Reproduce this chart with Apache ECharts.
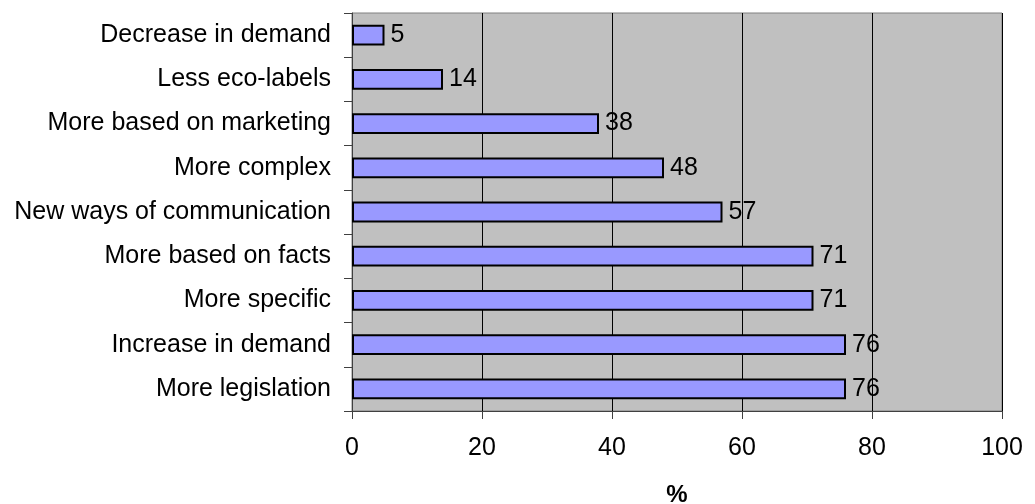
<!DOCTYPE html>
<html>
<head>
<meta charset="utf-8">
<script src="https://cdn.jsdelivr.net/npm/echarts@6/dist/echarts.min.js"></script>
<style>html,body{margin:0;padding:0;background:#fff}#c{width:1035px;height:504px}</style>
</head>
<body>
<div id="c"></div>
<script>
const categories = ['More legislation', 'Increase in demand', 'More specific', 'More based on facts', 'New ways of communication', 'More complex', 'More based on marketing', 'Less eco-labels', 'Decrease in demand'];
const values = [76, 76, 71, 71, 57, 48, 38, 14, 5];
const xTicks = [0, 20, 40, 60, 80, 100];
const xAxisName = '%';

const chart = echarts.init(document.getElementById('c'), null, {renderer: 'canvas'});
const font = 'Liberation Sans, Arial, sans-serif';
chart.setOption({
  animation: false,
  backgroundColor: '#ffffff',
  grid: {left: 352, right: 33, top: 13, bottom: 93, containLabel: false, outerBoundsMode: 'none', show: true, backgroundColor: '#C0C0C0', borderColor: '#808080', borderWidth: 1},
  xAxis: {
    type: 'value', min: xTicks[0], max: xTicks[xTicks.length - 1], interval: 20,
    name: xAxisName, nameLocation: 'middle', nameGap: 72,
    nameTextStyle: {fontFamily: font, fontSize: 24, fontWeight: 'bold', color: '#000'},
    axisLine: {show: true, lineStyle: {color: '#404040', width: 1}},
    axisTick: {show: true, length: 8, lineStyle: {color: '#404040'}},
    axisLabel: {fontFamily: font, fontSize: 25, color: '#000', margin: 25},
    splitLine: {show: true, lineStyle: {color: '#000', width: 1}}
  },
  yAxis: {
    type: 'category', data: categories,
    axisLine: {show: true, lineStyle: {color: '#404040', width: 1}},
    axisTick: {show: true, length: 8, alignWithLabel: false, lineStyle: {color: '#404040'}},
    axisLabel: {fontFamily: font, fontSize: 25, color: '#000', margin: 21},
    splitLine: {show: false}
  },
  series: [{
    type: 'bar', data: values, barWidth: '47%',
    itemStyle: {color: '#9999FF', borderColor: '#000', borderWidth: 2},
    label: {show: true, position: 'right', distance: 6, fontFamily: font, fontSize: 25, color: '#000'}
  }]
});
</script>
</body>
</html>
